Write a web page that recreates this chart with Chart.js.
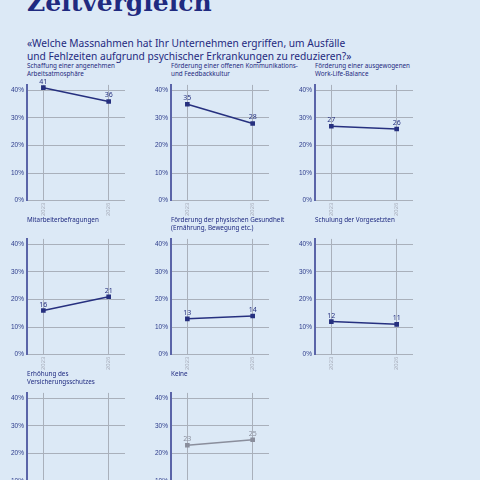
<!DOCTYPE html>
<html lang="de">
<head>
<meta charset="UTF-8">
<title>Zeitvergleich</title>
<script src="https://cdn.jsdelivr.net/npm/chart.js"></script>
<style>
  body { margin:0; width:480px; height:480px; overflow:hidden; background:#dce9f6; font-family:"Noto Sans", sans-serif; position:relative; }
  h1 { position:absolute; left:27px; top:-12px; margin:0; font-family:"DejaVu Serif", serif; font-weight:bold; font-size:25px; color:#1f2a80; }
  .sub { position:absolute; left:27px; top:37px; font-size:10.2px; line-height:13px; color:#1f2a80; }
  .pt { position:absolute; font-size:6.3px; line-height:8px; color:#1f2a80; width:130px; }
  canvas.c { position:absolute; }
</style>
</head>
<body>
<h1>Zeitvergleich</h1>
<div class="sub">«Welche Massnahmen hat Ihr Unternehmen ergriffen, um Ausfälle<br>und Fehlzeiten aufgrund psychischer Erkrankungen zu reduzieren?»</div>
<div id="wrap"></div>
<script>
const years = ['2023', '2026'];
const titles = [
  'Schaffung einer angenehmen<br>Arbeitsatmosphäre',
  'Förderung einer offenen Kommunikations-<br>und Feedbackkultur',
  'Förderung einer ausgewogenen<br>Work-Life-Balance',
  'Mitarbeiterbefragungen',
  'Förderung der physischen Gesundheit<br>(Ernährung, Bewegung etc.)',
  'Schulung der Vorgesetzten',
  'Erhöhung des<br>Versicherungsschutzes',
  'Keine'
];
const values = [
  [41, 36],
  [35, 28],
  [27, 26],
  [16, 21],
  [13, 14],
  [12, 11],
  [null, null],
  [23, 25]
];
const yTicks = [0, 10, 20, 30, 40];

const labelPlugin = {
  id: 'vals',
  afterDatasetsDraw(chart) {
    const ctx = chart.ctx;
    const meta = chart.getDatasetMeta(0);
    ctx.save();
    ctx.font = '7px "Noto Sans"';
    ctx.textAlign = 'center';
    ctx.fillStyle = chart.data.datasets[0].borderColor;
    meta.data.forEach((p, i) => {
      const v = chart.data.datasets[0].data[i].y;
      if (v == null) return;
      ctx.fillText(v, p.x, p.y - 4);
    });
    ctx.restore();
  }
};

const wrap = document.getElementById('wrap');
titles.forEach((t, i) => {
  const col = i % 3, row = Math.floor(i / 3);
  const left = col * 144, top = row * 154;
  const d = document.createElement('div');
  d.className = 'pt';
  d.style.left = (left + 27) + 'px';
  d.style.top = (top + 62) + 'px';
  d.innerHTML = t;
  wrap.appendChild(d);
  const cv = document.createElement('canvas');
  cv.className = 'c';
  cv.width = 140; cv.height = 140;
  cv.style.left = left + 'px';
  cv.style.top = (top + 78) + 'px';
  cv.style.width = '140px'; cv.style.height = '140px';
  wrap.appendChild(cv);
  const color = i === 7 ? '#8a8e9c' : '#26307f';
  new Chart(cv, {
    type: 'line',
    data: { datasets: [{
      data: values[i].map((v, k) => ({ x: k, y: v })),
      borderColor: color, backgroundColor: color,
      borderWidth: 1.5, pointStyle: 'rect', pointRadius: 2.2
    }] },
    options: {
      responsive: false, animation: false,
      layout: { padding: { top: 3, right: 15, left: 8, bottom: 0 } },
      plugins: { legend: { display: false }, tooltip: { enabled: false } },
      scales: {
        x: {
          type: 'linear', min: -0.25, max: 1.25,
          afterBuildTicks: a => { a.ticks = [{ value: 0 }, { value: 1 }]; },
          ticks: { callback: v => years[v], maxRotation: 90, minRotation: 90, color: '#a9aebb', font: { size: 6 }, padding: 2 },
          grid: { color: '#a9b0bb', lineWidth: 1, drawTicks: false },
          border: { display: false }
        },
        y: {
          min: 0, max: 42,
          afterBuildTicks: a => { a.ticks = yTicks.map(v => ({ value: v })); },
          ticks: { callback: v => v + '%', color: '#2b3a8a', font: { size: 6.5 }, padding: 3 },
          grid: { color: '#a9b0bb', lineWidth: 1, drawTicks: false },
          border: { color: '#5a64a8', width: 2 }
        }
      }
    },
    plugins: [labelPlugin]
  });
});
</script>
</body>
</html>
